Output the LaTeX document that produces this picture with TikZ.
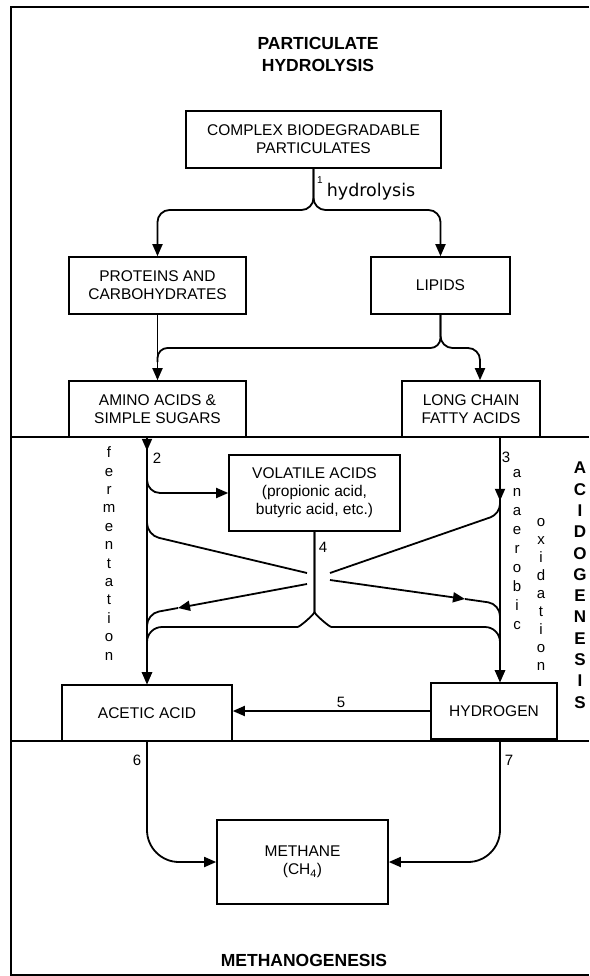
\documentclass[tikz,border=0pt]{standalone}
\usepackage{fontspec}
\setmainfont{Liberation Sans}
\newfontfamily\handfont{DejaVu Sans}
\usetikzlibrary{arrows.meta}

\begin{document}
\begin{tikzpicture}[x=1pt,y=-1pt,
  box/.style={draw,line width=1.6pt,align=center,inner sep=0pt,
    font=\fontsize{15.5}{18}\selectfont},
  arr/.style={line width=1.8pt,-{Triangle[length=12pt,width=10pt]}},
  link/.style={line width=1.8pt},
  lab/.style={inner sep=0pt,font=\fontsize{15}{18}\selectfont},
  stagetitle/.style={align=center,inner sep=0pt,font=\bfseries\fontsize{17.5}{22}\selectfont},
  vlet/.style={inner sep=0pt,text height=1ex,text depth=0pt,font=\fontsize{15}{18}\selectfont},
  vcap/.style={inner sep=0pt,font=\bfseries\fontsize{17}{20}\selectfont}]
  \useasboundingbox (0,0) rectangle (589,976);
  % frame and stage dividers
  \draw[line width=1.7pt] (589,7) -- (11,7) -- (11,975) -- (589,975);
  \draw[line width=1.7pt] (11,437) -- (589,437);
  \draw[line width=1.7pt] (11,741) -- (589,741);

  % stage titles
  \node[stagetitle] (hydtitle) at (318,54) {PARTICULATE\\HYDROLYSIS};
  \node[stagetitle] (mgtitle) at (304,960) {METHANOGENESIS};
  \foreach \ch [count=\i] in {A,C,I,D,O,G,E,N,E,S,I,S}
    \node[vcap] (acid\i) at (580,{468+21.3*(\i-1)}) {\ch};

  % boxes
  \node[box,minimum width=255,minimum height=57] (cbp) at (313.5,139.5) {COMPLEX BIODEGRADABLE\\PARTICULATES};
  \node[box,minimum width=177,minimum height=57] (prot) at (157.5,285.5) {PROTEINS AND\\CARBOHYDRATES};
  \node[box,minimum width=139,minimum height=57] (lip) at (440.5,285.5) {LIPIDS};
  \node[box,minimum width=177,minimum height=56] (amino) at (157.5,409) {AMINO ACIDS \&\\SIMPLE SUGARS};
  \node[box,minimum width=138,minimum height=56] (long) at (471,409) {LONG CHAIN\\FATTY ACIDS};
  \node[box,minimum width=171,minimum height=76] (vol) at (314.5,493) {VOLATILE ACIDS\\(propionic acid,\\butyric acid, etc.)};
  \node[box,minimum width=170,minimum height=56] (acetic) at (147,713) {ACETIC ACID};
  \node[box,minimum width=126,minimum height=56] (hyd) at (494,711) {HYDROGEN};
  \node[box,minimum width=171,minimum height=84] (meth) at (302.5,862) {METHANE\\(CH\textsubscript{4})};

  % hydrolysis
  \coordinate (hsplit) at (313.5,210);
  \draw[arr,rounded corners=12] (cbp.south) -- (hsplit) -| (prot.north);
  \draw[arr,rounded corners=12] (cbp.south) -- (hsplit) -| (lip.north);
  \node[lab,font=\fontsize{10}{12}\selectfont] (n1) at (320,180) {1};
  \node[font=\handfont\fontsize{17.5}{20}\selectfont] (hydlab) at (371,192) {hydrolysis};
  \draw[arr] (prot.south) -- (amino.north);
  \coordinate (lsplit) at (440.5,348);
  \draw[link,rounded corners=10] (lip.south) -- (lsplit) -- (157.5,348) -- (157.5,362);
  \draw[arr,rounded corners=12] (lip.south) -- (lsplit) -| ([xshift=9pt]long.north);

  % acidogenesis
  \coordinate (rx) at (500,0);
  \draw[arr] (amino.south -| acetic.north) -- ++(0,13);
  \draw[arr] (amino.south -| acetic.north) -- (acetic.north);
  \draw[arr] (long.south -| rx) -- ++(0,63);
  \draw[arr] (long.south -| rx) -- (hyd.north -| rx);
  \node[lab] (n2) at (157,458) {2};
  \node[lab] (n3) at (506,457) {3};
  \coordinate (fv) at (147,465);
  \draw[arr,rounded corners=13] (fv) |- (vol.west);
  % crossing links round 4
  \draw[link,rounded corners=12] (147,518) -- (147,535) -- (307,573);
  \draw[arr] (307,584) -- (178,608);
  \draw[link,rounded corners=12] (178,608) -- (147,613.7) -- (147,630);
  \draw[link,rounded corners=10] (500,500) -- (500,514) -- (330,573);
  \draw[arr] (330,580) -- (465,599);
  \draw[link,rounded corners=12] (465,599) -- (500,604) -- (500,618);
  \coordinate (vsplit) at (314.5,597);
  \draw[arr,rounded corners=15] (vol.south) -- (vsplit) to[out=-90,in=0] ++(-32,30) -| (acetic.north);
  \draw[arr,rounded corners=15] (vol.south) -- (vsplit) to[out=-90,in=180] ++(32,30) -| (hyd.north -| rx);
  \node[lab] (n4) at (323,547) {4};
  \draw[arr] (hyd.west) -- (hyd.west -| acetic.east);
  \node[lab] (n5) at (341,702) {5};
  \foreach \ch [count=\i] in {f,e,r,m,e,n,t,a,t,i,o,n}
    \node[vlet] (fer\i) at (109,{455+18.4*(\i-1)}) {\ch};
  \foreach \ch [count=\i] in {a,n,a,e,r,o,b,i,c}
    \node[vlet] (ana\i) at (517,{475+19*(\i-1)}) {\ch};
  \foreach \ch [count=\i] in {o,x,i,d,a,t,i,o,n}
    \node[vlet] (oxi\i) at (541,{524+18*(\i-1)}) {\ch};

  % methanogenesis
  \draw[arr,rounded corners=32] (acetic.south) |- (meth.west);
  \draw[arr,rounded corners=32] (hyd.south -| rx) |- (meth.east);
  \node[lab] (n6) at (137,760) {6};
  \node[lab] (n7) at (509,760) {7};
\end{tikzpicture}
\end{document}
